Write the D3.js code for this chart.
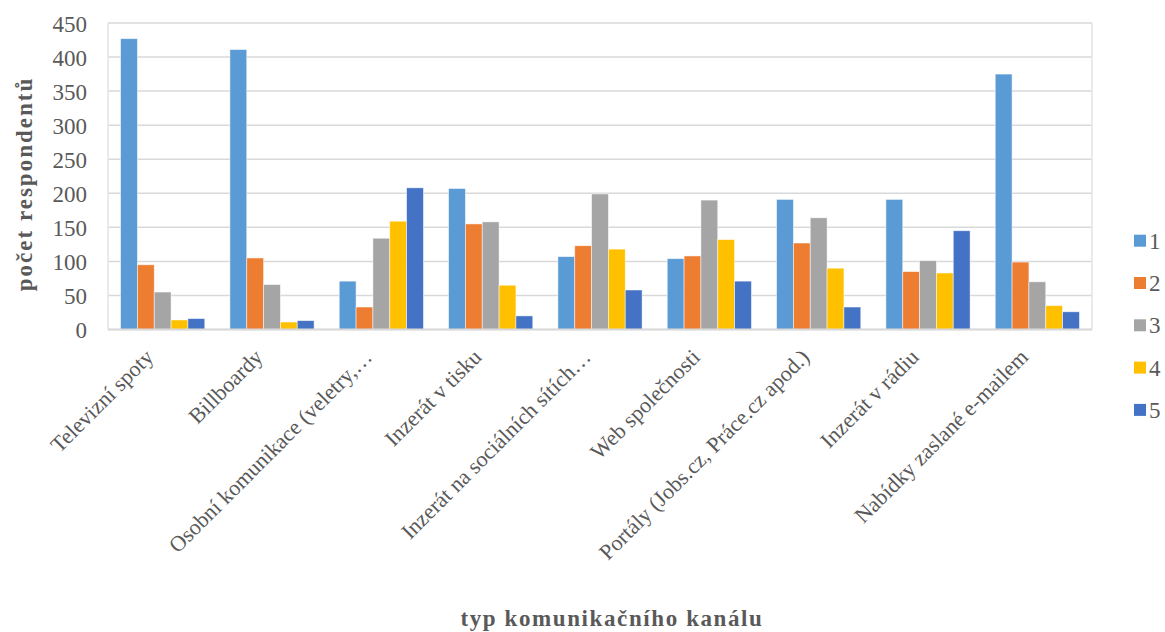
<!DOCTYPE html>
<html>
<head>
<meta charset="utf-8">
<script src="https://cdn.jsdelivr.net/npm/d3@7"></script>
<style>
  html, body { margin: 0; padding: 0; background: #fff; }
  svg text { font-family: "Liberation Serif", "Times New Roman", serif !important; }
</style>
</head>
<body>
<svg id="chart" width="1165" height="632"></svg>
<script>
// Communication channels (x categories)
const categories = [
  "Televizní spoty",
  "Billboardy",
  "Osobní komunikace (veletry,…",
  "Inzerát v tisku",
  "Inzerát na sociálních sítích…",
  "Web společnosti",
  "Portály (Jobs.cz, Práce.cz apod.)",
  "Inzerát v rádiu",
  "Nabídky zaslané e-mailem"
];

// Rating series 1–5
const seriesNames = ["1", "2", "3", "4", "5"];
const series1 = [427, 411, 71, 207, 107, 104, 191, 191, 375];
const series2 = [95, 105, 33, 155, 123, 108, 127, 85, 99];
const series3 = [55, 66, 134, 158, 199, 190, 164, 101, 70];
const series4 = [14, 11, 159, 65, 118, 132, 90, 83, 35];
const series5 = [16, 13, 208, 20, 58, 71, 33, 145, 26];
const seriesValues = [series1, series2, series3, series4, series5];

const yTicks = [0, 50, 100, 150, 200, 250, 300, 350, 400, 450];
const colors = ["#5B9BD5", "#ED7D31", "#A5A5A5", "#FFC000", "#4472C4"];
const serif = "'Liberation Serif', 'Times New Roman', serif";
const textColor = "#595959";

const svg = d3.select("#chart");
const plot = { left: 108, right: 1092, top: 23, bottom: 329.5 };

const x0 = d3.scaleBand()
  .domain(categories)
  .range([plot.left, plot.right])
  .paddingInner(0.23)
  .paddingOuter(0.115);

const x1 = d3.scaleBand()
  .domain(seriesNames)
  .range([0, x0.bandwidth()]);

const y = d3.scaleLinear()
  .domain([0, 450])
  .range([plot.bottom, plot.top]);

// Horizontal gridlines
svg.append("g")
  .selectAll("line")
  .data(yTicks)
  .join("line")
  .attr("x1", plot.left)
  .attr("x2", plot.right)
  .attr("y1", d => y(d))
  .attr("y2", d => y(d))
  .attr("stroke", "#d9d9d9")
  .attr("stroke-width", 1.5);

// Plot frame sides
svg.append("line")
  .attr("x1", plot.left).attr("x2", plot.left)
  .attr("y1", plot.top).attr("y2", plot.bottom)
  .attr("stroke", "#e3e3e3").attr("stroke-width", 1.5);
svg.append("line")
  .attr("x1", plot.right).attr("x2", plot.right)
  .attr("y1", plot.top).attr("y2", plot.bottom)
  .attr("stroke", "#e3e3e3").attr("stroke-width", 1.5);

// Y axis tick labels
const yAxis = d3.axisLeft(y).tickValues(yTicks).tickSize(0).tickPadding(21);
const gy = svg.append("g")
  .attr("transform", `translate(${plot.left},0)`)
  .call(yAxis)
  .attr("font-family", serif)
  .attr("font-size", 23);
gy.select(".domain").remove();
gy.selectAll("text")
  .attr("fill", textColor)
  .attr("dy", "0.35em");

// Bars
const groups = svg.append("g")
  .selectAll("g")
  .data(categories)
  .join("g")
  .attr("transform", d => `translate(${x0(d)},0)`);

groups.selectAll("rect")
  .data((c, ci) => seriesNames.map((s, si) => ({ s, si, v: seriesValues[si][ci] })))
  .join("rect")
  .attr("x", d => x1(d.s))
  .attr("width", x1.bandwidth())
  .attr("y", d => y(d.v))
  .attr("height", d => y(0) - y(d.v))
  .attr("fill", d => colors[d.si])
  .attr("stroke", "#ffffff")
  .attr("stroke-opacity", 0.6)
  .attr("stroke-width", 0.8);

// Baseline
svg.append("line")
  .attr("x1", plot.left).attr("x2", plot.right)
  .attr("y1", y(0)).attr("y2", y(0))
  .attr("stroke", "#d9d9d9").attr("stroke-width", 2);

// X axis category labels, rotated
const xAxis = d3.axisBottom(x0).tickSize(0).tickPadding(0);
const gx = svg.append("g")
  .attr("transform", `translate(0,${plot.bottom})`)
  .call(xAxis)
  .attr("font-family", serif)
  .attr("font-size", 22);
gx.select(".domain").remove();
gx.selectAll("text")
  .attr("fill", textColor)
  .attr("text-anchor", "end")
  .attr("dy", null)
  .attr("y", 0)
  .attr("transform", "translate(-8,29) rotate(-45)");

// Axis titles
svg.append("text")
  .attr("transform", `translate(32,184) rotate(-90)`)
  .attr("text-anchor", "middle")
  .attr("fill", textColor)
  .attr("font-family", serif)
  .attr("font-size", 23)
  .attr("font-weight", "bold")
  .attr("letter-spacing", 2)
  .text("počet respondentů");

svg.append("text")
  .attr("x", 612)
  .attr("y", 626)
  .attr("text-anchor", "middle")
  .attr("fill", textColor)
  .attr("font-family", serif)
  .attr("font-size", 23)
  .attr("font-weight", "bold")
  .attr("letter-spacing", 1.6)
  .text("typ komunikačního kanálu");

// Legend
const legend = svg.append("g")
  .selectAll("g")
  .data(seriesNames)
  .join("g")
  .attr("transform", (d, i) => `translate(1134,${240.7 + i * 42.3})`);

legend.append("rect")
  .attr("x", 0).attr("y", -6)
  .attr("width", 12).attr("height", 12)
  .attr("fill", (d, i) => colors[i]);

legend.append("text")
  .attr("x", 15)
  .attr("y", 0)
  .attr("dy", "0.35em")
  .attr("fill", textColor)
  .attr("font-family", serif)
  .attr("font-size", 23)
  .text(d => d);
</script>
</body>
</html>
